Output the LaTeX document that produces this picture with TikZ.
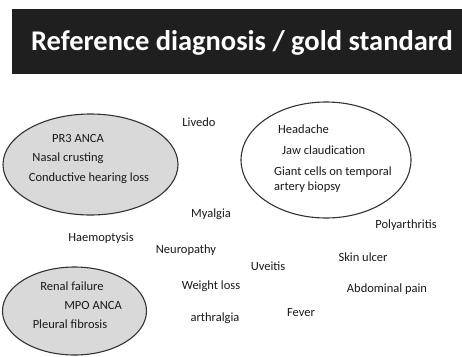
\documentclass[tikz,border=0pt]{standalone}
\usepackage{fontspec}
\setmainfont{Carlito}
\begin{document}
\begin{tikzpicture}[x=1pt,y=-1pt,
  lbl/.style={font=\fontsize{12.5}{14}\selectfont, text=black!90, inner sep=0pt},
  oval/.style={draw=black!80, line width=1.1pt}]
\useasboundingbox (0,0) rectangle (462,356);
\fill[white] (0,0) rectangle (462,356);
\node[fill=black!88, minimum width=450pt, minimum height=65pt, inner sep=0pt, anchor=north west] (banner) at (12,9) {};
\node[text=white, font=\fontsize{28.5}{31}\selectfont\bfseries] (title) at (242,43) {Reference diagnosis / gold standard};
% ovals
\draw[oval, fill=black!15] (90.5,164.5) ellipse [x radius=87.5pt, y radius=50.5pt];
\node (gpa) at (90.5,164.5) {};
\draw[oval, fill=white] (326,160) ellipse [x radius=85pt, y radius=58pt];
\node (gca) at (326,160) {};
\draw[oval, fill=black!15] (74.5,311) ellipse [x radius=72pt, y radius=44pt];
\node (mpa) at (74.5,311) {};
% left oval texts
\node[lbl] (pr3) at (78,138) {PR3 ANCA};
\node[lbl] (nasal) at (68,158) {Nasal crusting};
\node[lbl] (cond) at (89,178) {Conductive hearing loss};
% right oval texts
\node[lbl, anchor=west] (head) at (278,129) {Headache};
\node[lbl, anchor=west] (jaw) at (282,150) {Jaw claudication};
\node[lbl, anchor=west, align=left] (giant) at (274,180) {Giant cells on temporal\\[1pt]artery biopsy};
% bottom oval texts
\node[lbl] (renal) at (72,286) {Renal failure};
\node[lbl] (mpo) at (93,305) {MPO ANCA};
\node[lbl] (pleural) at (70,324) {Pleural fibrosis};
% free texts
\node[lbl] (livedo) at (199,122) {Livedo};
\node[lbl] (myalgia) at (211,214) {Myalgia};
\node[lbl] (polyarth) at (406,225) {Polyarthritis};
\node[lbl] (haemo) at (101,238) {Haemoptysis};
\node[lbl] (neuro) at (186,250) {Neuropathy};
\node[lbl] (skin) at (363,257) {Skin ulcer};
\node[lbl] (uveitis) at (268,266) {Uveitis};
\node[lbl] (weight) at (211,286) {Weight loss};
\node[lbl] (abdo) at (387,289) {Abdominal pain};
\node[lbl] (fever) at (301,313) {Fever};
\node[lbl] (arthr) at (215,318) {arthralgia};
\end{tikzpicture}
\end{document}
